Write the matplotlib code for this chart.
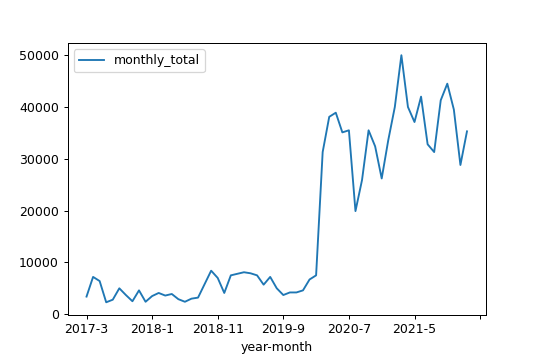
import matplotlib
matplotlib.use("Agg")
import matplotlib.pyplot as plt
from matplotlib.ticker import FuncFormatter, MaxNLocator

months = []
y, m = 2017, 3
for _ in range(59):
    months.append(f"{y}-{m}")
    m += 1
    if m > 12:
        m = 1
        y += 1

monthly_total = [
    3400, 7200, 6400, 2300, 2800, 5000, 3700, 2500, 4600, 2400,
    3500, 4100, 3600, 3900, 2900, 2400, 3000, 3200, 5800, 8400,
    7000, 4100, 7500, 7800, 8100, 7900, 7500, 5700, 7200, 5000,
    3700, 4200, 4200, 4600, 6700, 7500, 31300, 38100, 38900, 35100,
    35500, 19900, 25900, 35500, 32400, 26200, 33600, 40000, 50000, 40000,
    37100, 42000, 32800, 31300, 41300, 44500, 39500, 28800, 35300,
]

fig = plt.figure(figsize=(6, 4), dpi=90)
ax = fig.add_axes([0.125, 0.126, 0.775, 0.755])
x = list(range(len(months)))
ax.plot(x, monthly_total, color="#1f77b4", label="monthly_total")
ax.xaxis.set_major_locator(MaxNLocator(nbins=7, steps=[1, 2, 5, 10]))

def fmt(v, pos):
    i = int(round(v))
    if abs(v - i) < 1e-6 and 0 <= i < len(months):
        return months[i]
    return ""

ax.xaxis.set_major_formatter(FuncFormatter(fmt))
ax.set_xlabel("year-month")
ax.legend(loc="upper left")
fig.savefig("out.png", dpi=90)
